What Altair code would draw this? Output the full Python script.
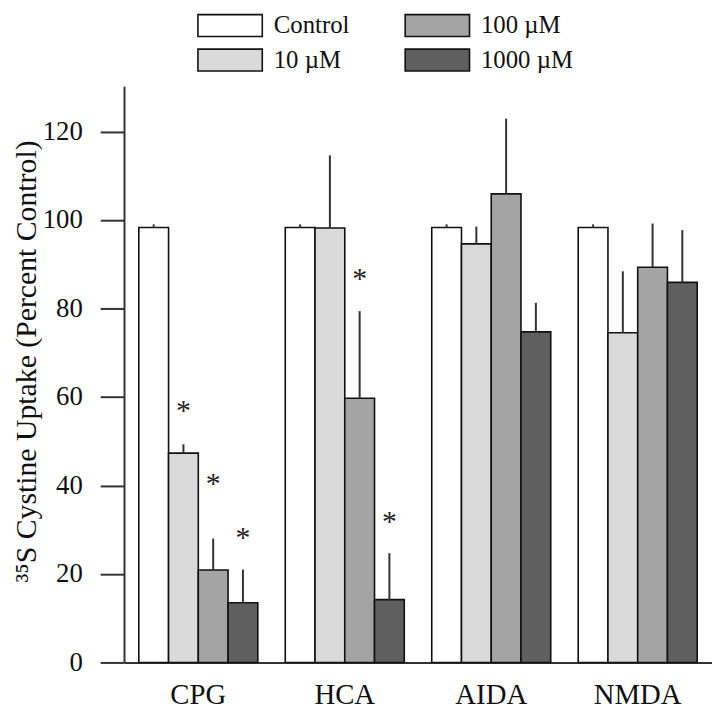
import altair as alt
import pandas as pd

groups = ["CPG", "HCA", "AIDA", "NMDA"]
series = ["Control", "10 µM", "100 µM", "1000 µM"]
control = [98.3, 98.3, 98.3, 98.3]
um10 = [47.3, 98.2, 94.6, 74.5]
um100 = [20.9, 59.7, 105.9, 89.3]
um1000 = [13.5, 14.2, 74.7, 85.9]
control_err = [99.0, 99.0, 99.0, 99.0]
um10_err = [49.3, 114.6, 98.5, 88.4]
um100_err = [28.0, 79.4, 122.9, 99.2]
um1000_err = [21.0, 24.7, 81.3, 97.7]
star_group = ["CPG", "CPG", "CPG", "HCA", "HCA"]
star_series = ["10 µM", "100 µM", "1000 µM", "100 µM", "1000 µM"]
star_y = [58.3, 41.9, 29.6, 88.3, 33.4]
y_ticks = [0, 20, 40, 60, 80, 100, 120]
series_colors = ["#ffffff", "#dadada", "#a4a4a4", "#5f5f5f"]

FONT = "Liberation Serif"

rows = []
for s, vals, errs in zip(series, [control, um10, um100, um1000],
                         [control_err, um10_err, um100_err, um1000_err]):
    for g, v, e in zip(groups, vals, errs):
        rows.append({"group": g, "series": s, "value": v, "err": e})
df = pd.DataFrame(rows)
stars = pd.DataFrame({"group": star_group, "series": star_series, "y": star_y, "t": ["*"] * len(star_y)})

x_enc = alt.X(
    "group:N", sort=groups,
    scale=alt.Scale(domain=groups, paddingInner=0.1875, paddingOuter=0.101),
    axis=alt.Axis(title=None, labelAngle=0, ticks=False, labelPadding=18,
                  labelFont=FONT, labelFontSize=29, labelColor="#111",
                  domainColor="#333", domainWidth=2),
)
xo_enc = alt.XOffset("series:N", scale=alt.Scale(domain=series, paddingInner=0, paddingOuter=0))
y_scale = alt.Scale(domain=[0, 130.2], nice=False)

bars = alt.Chart(df).mark_bar(stroke="#111", strokeWidth=1.6, opacity=1).encode(
    x=x_enc,
    xOffset=xo_enc,
    y=alt.Y("value:Q", scale=y_scale,
            axis=alt.Axis(values=y_ticks, grid=False, tickSize=24, tickWidth=2, tickColor="#333",
                          domainColor="#333", domainWidth=2, labelPadding=18,
                          labelFont=FONT, labelFontSize=27, labelColor="#111",
                          title="³⁵S Cystine Uptake (Percent Control)",
                          titleFont=FONT, titleFontSize=30, titleFontWeight="normal",
                          titleColor="#111", titleX=-98, titleY=277,
                          titleBaseline="middle", titleAlign="center")),
    color=alt.Color("series:N",
                    scale=alt.Scale(domain=series, range=series_colors),
                    legend=alt.Legend(title=None, orient="none", legendX=94.5, legendY=-74,
                                      columns=2, columnPadding=52, rowPadding=6,
                                      symbolType="M-2.95,-1H2.95V1H-2.95Z", symbolSize=484,
                                      symbolStrokeColor="#111", symbolStrokeWidth=1.6,
                                      symbolOpacity=1, labelOffset=31.5,
                                      labelFont=FONT, labelFontSize=25, labelColor="#111",
                                      padding=0)),
)

errs = alt.Chart(df).mark_rule(color="#333", strokeWidth=2).encode(
    x=x_enc, xOffset=xo_enc,
    y=alt.Y("value:Q", scale=y_scale),
    y2="err:Q",
)

star_text = alt.Chart(stars).mark_text(font=FONT, fontSize=30, color="#222",
                                       baseline="alphabetic", dy=16).encode(
    x=x_enc, xOffset=xo_enc,
    y=alt.Y("y:Q", scale=y_scale),
    text="t:N",
)

chart = alt.layer(bars, errs, star_text).properties(
    width=593, height=581,
    padding={"left": 117, "top": 76, "right": 0, "bottom": 50},
    autosize=alt.AutoSizeParams(type="none"),
).configure(background="white", font=FONT).configure_view(stroke=None).configure_axis(
    labelFont=FONT, titleFont=FONT
).configure_legend(labelFont=FONT)

chart.save("out.html", embed_options={"renderer": "svg", "actions": False})
